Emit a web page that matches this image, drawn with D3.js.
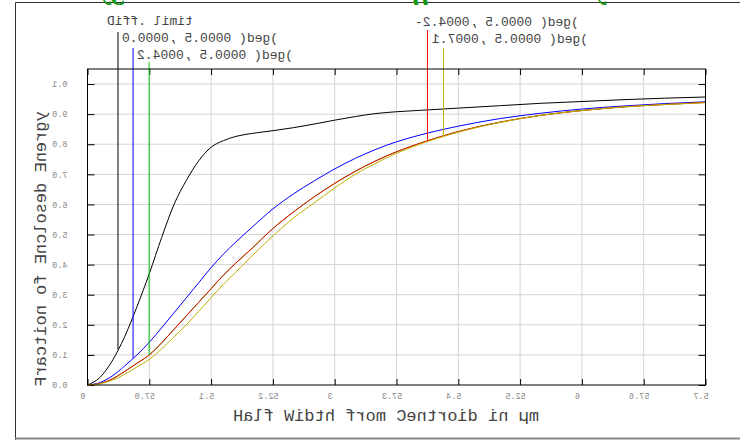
<!DOCTYPE html>
<html><head><meta charset="utf-8">
<script src="https://cdn.jsdelivr.net/npm/d3@7"></script>
<style>body{margin:0;background:#fff;overflow:hidden}</style></head>
<body><svg id="c" width="740" height="440"></svg>
<script>
const xTicks=[0,0.75,1.5,2.25,3,3.75,4.5,5.25,6,6.75,7.5];
const xTickLabels=["0","0.75","1.5","2.25","3","3.75","4.5","5.25","6","6.75","7.5"];
const yTicks=[0,0.1,0.2,0.3,0.4,0.5,0.6,0.7,0.8,0.9,1.0];
const yTickLabels=["0.0","0.1","0.2","0.3","0.4","0.5","0.6","0.7","0.8","0.9","1.0"];
const radius=[0,0.15,0.3,0.45,0.6,0.75,0.9,1.05,1.2,1.35,1.5,1.65,1.8,2.0,2.25,2.5,2.75,3.0,3.25,3.5,3.75,4.0,4.5,5.0,5.5,6.0,6.5,7.0,7.5];
const diffLimit=[0,0.025,0.08,0.16,0.26,0.37,0.49,0.60,0.68,0.745,0.79,0.812,0.826,0.836,0.845,0.855,0.867,0.88,0.892,0.902,0.908,0.912,0.92,0.928,0.936,0.942,0.948,0.953,0.957];
const field0=[0,0.008,0.03,0.063,0.1,0.142,0.19,0.24,0.29,0.34,0.39,0.435,0.475,0.525,0.585,0.635,0.678,0.718,0.753,0.783,0.808,0.828,0.86,0.885,0.903,0.917,0.927,0.935,0.941];
const fieldPos24=[0,0.005,0.02,0.045,0.072,0.1,0.14,0.185,0.23,0.275,0.32,0.365,0.405,0.455,0.52,0.575,0.625,0.67,0.71,0.745,0.775,0.8,0.842,0.873,0.896,0.912,0.924,0.932,0.939];
const fieldNeg24=fieldPos24;
const field17=[0,0.004,0.016,0.035,0.06,0.085,0.12,0.16,0.2,0.245,0.29,0.335,0.375,0.43,0.495,0.555,0.605,0.655,0.7,0.737,0.77,0.797,0.84,0.872,0.896,0.912,0.924,0.932,0.938];
const seriesNames=["Diff. limit","0.0000, 5.0000 (deg)","2.4000, 5.0000 (deg)","-2.4000, 5.0000 (deg)","1.7000, 5.0000 (deg)"];
const seriesColors=["#000000","#0000ff","#00c800","#ff0000","#c0b000"];
const seriesValues=[diffLimit,field0,fieldPos24,fieldNeg24,field17];
const leaderX=[0.37,0.553,0.748,4.126,4.32];
const xTitle="Half Width from Centroid in µm";
const yTitle="Fraction of Enclosed Energy";
const title="Polychromatic Diffraction Encircled Energy";

const svg=d3.select("#c");
const L=87.5,R=705.5,T=69,B=385;
const x=d3.scaleLinear().domain([0,7.5]).range([L,R]);
const y=d3.scaleLinear().domain([0,1.05]).range([B,T]);
const mono="'Liberation Mono','DejaVu Sans Mono',monospace";
const NS="http://www.w3.org/2000/svg";

// replace a text by the same characters, each glyph mirrored in place
function mirrorGlyphs(sel){
  sel.each(function(){
    const t=this, s=t.textContent, n=t.getNumberOfChars();
    const cs=getComputedStyle(t);
    const g=document.createElementNS(NS,"g");
    if(t.getAttribute("transform")) g.setAttribute("transform",t.getAttribute("transform"));
    for(let i=0;i<n;i++){
      const ch=s[i]; if(ch===" ") continue;
      const ext=t.getExtentOfChar(i), p=t.getStartPositionOfChar(i);
      const cx=ext.x+ext.width/2;
      const c=document.createElementNS(NS,"text");
      c.setAttribute("x",0);c.setAttribute("y",0);
      c.setAttribute("text-anchor","middle");
      c.setAttribute("transform",`translate(${cx},${p.y}) scale(-1,1)`);
      c.setAttribute("font-family",cs.fontFamily);
      c.setAttribute("font-size",cs.fontSize);
      c.setAttribute("font-weight",cs.fontWeight);
      c.setAttribute("font-style",cs.fontStyle);
      c.setAttribute("fill",cs.fill);
      c.textContent=ch;
      g.appendChild(c);
    }
    t.parentNode.insertBefore(g,t);
    t.remove();
  });
}

// outer frame
svg.append("path").attr("d","M15.5,440 V2.5 H740").attr("fill","none").attr("stroke","#333");
svg.append("line").attr("x1",15).attr("x2",740).attr("y1",438.5).attr("y2",438.5).attr("stroke","#888").attr("stroke-width",2);

// title (mostly clipped above the page, as in the reference)
svg.append("text").attr("x",370).attr("y",-1).attr("text-anchor","middle")
  .attr("font-family","'Liberation Serif',serif").attr("font-weight","bold").attr("font-style","italic")
  .attr("font-size",30).attr("fill","#119911").attr("transform","translate(740,0) scale(-1,1)").text(title);

// grid
svg.append("g").selectAll("line").data(xTicks.slice(1,-1)).join("line")
  .attr("x1",d=>x(d)).attr("x2",d=>x(d)).attr("y1",T).attr("y2",B).attr("stroke","#d4d4d4");
svg.append("g").selectAll("line").data(yTicks.slice(1)).join("line")
  .attr("x1",L).attr("x2",R).attr("y1",d=>y(d)).attr("y2",d=>y(d)).attr("stroke","#d4d4d4");

// axes with inward ticks
const gx=svg.append("g").attr("transform",`translate(0,${B})`)
  .call(d3.axisBottom(x).tickValues(xTicks).tickSizeInner(-6).tickSizeOuter(0).tickFormat((d,i)=>xTickLabels[i]));
gx.select(".domain").remove();
gx.selectAll("line").attr("stroke","#000");
gx.selectAll("text").attr("font-family",mono).attr("font-size",8.5).attr("fill","#888").attr("dy","0.25em").attr("dx",-5).attr("y",12);
const gxt=svg.append("g").attr("transform",`translate(0,${T})`)
  .call(d3.axisTop(x).tickValues(xTicks).tickSizeInner(-6).tickSizeOuter(0).tickFormat(""));
gxt.select(".domain").remove();gxt.selectAll("line").attr("stroke","#000");
const gy=svg.append("g").attr("transform",`translate(${L},0)`)
  .call(d3.axisLeft(y).tickValues(yTicks).tickSizeInner(-7).tickSizeOuter(0).tickFormat((d,i)=>yTickLabels[i]));
gy.select(".domain").remove();
gy.selectAll("line").attr("stroke","#000");
gy.selectAll("text").attr("font-family",mono).attr("font-size",8.5).attr("fill","#888").attr("x",-20);
const gyr=svg.append("g").attr("transform",`translate(${R},0)`)
  .call(d3.axisRight(y).tickValues(yTicks).tickSizeInner(-7).tickSizeOuter(0).tickFormat(""));
gyr.select(".domain").remove();gyr.selectAll("line").attr("stroke","#000");

// curves
const line=d3.line().x((d,i)=>x(radius[i])).y(d=>y(d)).curve(d3.curveMonotoneX);
const order=[2,0,1,3,4];
order.forEach(k=>{
  svg.append("path").datum(seriesValues[k]).attr("d",line).attr("fill","none")
    .attr("stroke",seriesColors[k]).attr("stroke-width",1);
});

// leader lines
const interp=(vals,xv)=>{const f=d3.scaleLinear().domain(radius).range(vals);return f(xv);};
const leaderTop=[32,48,62,30,48];
seriesValues.forEach((vals,k)=>{
  svg.append("line").attr("x1",x(leaderX[k])).attr("x2",x(leaderX[k]))
    .attr("y1",leaderTop[k]).attr("y2",y(interp(vals,leaderX[k])))
    .attr("stroke",seriesColors[k]).attr("stroke-width",1);
});

// frame
svg.append("rect").attr("x",L).attr("y",T).attr("width",R-L).attr("height",B-T)
  .attr("fill","none").attr("stroke","#000");

// legend labels
const labPos=[[107,25],[122,42],[137,59],[415,26],[432,43]];
const legendTexts=seriesNames.map((s,k)=>
  svg.append("text").attr("x",labPos[k][0]).attr("y",labPos[k][1])
    .attr("font-family",mono).attr("font-size",13).attr("fill","#444").text(s).node());

// axis titles
const tx=svg.append("text").attr("x",386).attr("y",421).attr("text-anchor","middle")
  .attr("font-family",mono).attr("font-size",17).attr("fill","#444").text(xTitle);
const ty=svg.append("text").attr("transform","translate(46,249) rotate(-90)").attr("text-anchor","middle")
  .attr("font-family",mono).attr("font-size",17).attr("fill","#444").text(yTitle);

mirrorGlyphs(d3.selectAll(legendTexts));
mirrorGlyphs(tx);mirrorGlyphs(ty);
mirrorGlyphs(gx.selectAll("text"));
mirrorGlyphs(gy.selectAll("text"));
</script></body></html>
